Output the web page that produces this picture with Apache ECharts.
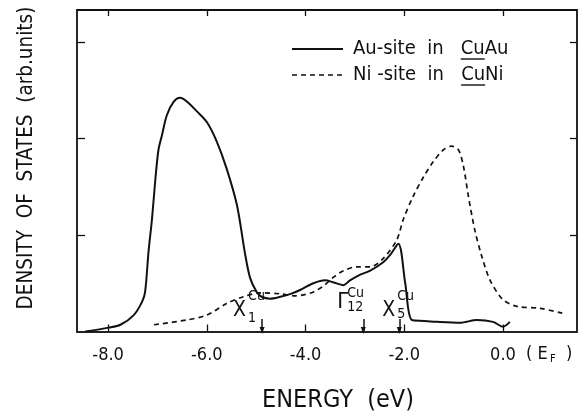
<!DOCTYPE html>
<html lang="en">
<head>
<meta charset="UTF-8">
<title>Density of states</title>
<script src="https://cdn.jsdelivr.net/npm/echarts@6/dist/echarts.min.js"></script>
<style>
	html, body { margin: 0; padding: 0; background: #fff; }
	#chart { width: 581px; height: 419px; }
</style>
</head>
<body>
<div id="chart"></div>
<script>
	// Au-site in CuAu (solid)
	var auEnergy = [-8.46, -7.99, -7.75, -7.48, -7.31, -7.25, -7.18, -7.11, -7.04, -6.98, -6.91, -6.81, -6.67, -6.54,
		-6.40, -6.20, -6.00, -5.80, -5.60, -5.39, -5.22, -5.12, -4.99, -4.89, -4.72, -4.51, -4.30, -4.11,
		-3.84, -3.60, -3.44, -3.23, -3.10, -2.89, -2.69, -2.42, -2.29, -2.12, -1.98, -1.85, -1.60, -1.34,
		-0.87, -0.53, -0.20, 0.00, 0.14];
	var auDos = [0.00, 0.04, 0.07, 0.17, 0.31, 0.41, 0.83, 1.17, 1.59, 1.88, 2.03, 2.24, 2.38, 2.42,
		2.38, 2.28, 2.17, 1.97, 1.69, 1.31, 0.79, 0.55, 0.41, 0.36, 0.34, 0.36, 0.39, 0.43,
		0.50, 0.53, 0.51, 0.48, 0.53, 0.59, 0.63, 0.72, 0.79, 0.91, 0.50, 0.12, 0.11, 0.10,
		0.09, 0.12, 0.10, 0.05, 0.10];

	// Ni-site in CuNi (dashed)
	var niEnergy = [-7.07, -6.40, -6.00, -5.60, -5.26, -4.92, -4.51, -4.20, -4.04, -3.84, -3.64, -3.44,
		-3.23, -2.96, -2.69, -2.42, -2.15, -2.02, -1.82, -1.61, -1.41, -1.21, -1.04, -0.90,
		-0.80, -0.70, -0.57, -0.43, -0.26, 0.00, 0.28, 0.75, 1.20];
	var niDos = [0.07, 0.12, 0.17, 0.29, 0.36, 0.40, 0.39, 0.37, 0.38, 0.41, 0.47, 0.56,
		0.63, 0.67, 0.67, 0.76, 0.95, 1.16, 1.40, 1.60, 1.76, 1.88, 1.92, 1.88,
		1.71, 1.40, 1.05, 0.78, 0.53, 0.33, 0.26, 0.24, 0.19];

	var xTicks = [-8, -6, -4, -2, 0];
	var yTicks = [1, 2, 3];

	// critical points of Cu, arrows on the energy axis
	var pointName = ['X', 'Γ', 'X'];
	var pointSub = ['1', '12', '5'];
	var pointEnergy = [-4.88, -2.83, -2.10];

	var FONT = '"DejaVu Sans Condensed", "Liberation Sans Narrow", "DejaVu Sans", sans-serif';
	var INK = '#111';

	// label offsets next to each arrow (px): main letter, superscript/subscript, vertical centres
	var pointLayout = [
		{dx: -29, sdx: -14, y: -21, supY: -35, subY: -13, size: 21},
		{dx: -26, sdx: -16, y: -29, supY: -38, subY: -24, size: 22},
		{dx: -17, sdx: -2, y: -21, supY: -35, subY: -17, size: 21}
	];

	function zip(xs, ys) {
		return xs.map(function (x, i) { return [x, ys[i]]; });
	}

	var chart = echarts.init(document.getElementById('chart'), null, {renderer: 'canvas'});

	var frameLine = {color: INK, width: 1.8};
	var tickLine = {color: INK, width: 1.3};

	chart.setOption({
		animation: false,
		backgroundColor: '#fff',
		grid: {left: 77, right: 4, top: 10, bottom: 87.5},
		xAxis: [{
			type: 'value', min: -8.63, max: 1.5, position: 'bottom',
			axisLine: {show: true, onZero: false, lineStyle: {color: '#222', width: 2.2}},
			axisTick: {show: true, inside: true, length: 7, customValues: xTicks, lineStyle: tickLine},
			axisLabel: {show: true, customValues: xTicks, margin: 15, color: INK, fontFamily: FONT, fontSize: 18,
				formatter: function (v) { return v.toFixed(1); }},
			splitLine: {show: false}
		}, {
			type: 'value', min: -8.63, max: 1.5, position: 'top',
			axisLine: {show: true, onZero: false, lineStyle: frameLine},
			axisTick: {show: true, inside: true, length: 6, customValues: xTicks, lineStyle: tickLine},
			axisLabel: {show: false},
			splitLine: {show: false}
		}],
		yAxis: [{
			type: 'value', min: 0, max: 3.33, position: 'left',
			axisLine: {show: true, onZero: false, lineStyle: frameLine},
			axisTick: {show: true, inside: true, length: 8, customValues: yTicks, lineStyle: tickLine},
			axisLabel: {show: false},
			splitLine: {show: false}
		}, {
			type: 'value', min: 0, max: 3.33, position: 'right',
			axisLine: {show: true, onZero: false, lineStyle: frameLine},
			axisTick: {show: true, inside: true, length: 7, customValues: yTicks, lineStyle: tickLine},
			axisLabel: {show: false},
			splitLine: {show: false}
		}],
		series: [{
			name: 'Au-site in CuAu',
			type: 'line',
			data: zip(auEnergy, auDos),
			showSymbol: false,
			smooth: 0.3,
			lineStyle: {color: INK, width: 2},
			markLine: {
				silent: true,
				symbol: ['none', 'triangle'],
				symbolSize: [5, 7],
				symbolRotate: 180,
				label: {show: false},
				lineStyle: {color: INK, width: 1.5, type: 'solid'},
				data: pointEnergy.map(function (e) {
					return [{coord: [e, 0.13]}, {coord: [e, 0.01]}];
				})
			}
		}, {
			name: 'Ni-site in CuNi',
			type: 'line',
			data: zip(niEnergy, niDos),
			showSymbol: false,
			smooth: 0.3,
			lineStyle: {color: INK, width: 1.7, type: [5, 4]}
		}]
	});

	// legend, axis titles and point labels
	var ctx = document.createElement('canvas').getContext('2d');
	function textWidth(str, size) {
		ctx.font = size + 'px ' + FONT;
		return ctx.measureText(str).width;
	}

	var legendX = 353;
	var legendRows = [
		{pre: 'Au-site  in   ', cu: 'Cu', post: 'Au', y: 49, dash: null},
		{pre: 'Ni -site  in   ', cu: 'Cu', post: 'Ni', y: 75, dash: [5, 4]}
	];
	var legendSize = 20;

	var graphics = [];
	legendRows.forEach(function (row) {
		graphics.push({
			type: 'line', silent: true,
			shape: {x1: 292, y1: row.y, x2: 343, y2: row.y},
			style: {stroke: INK, lineWidth: row.dash ? 1.7 : 2, lineDash: row.dash}
		});
		graphics.push({
			type: 'text', silent: true, x: legendX, y: row.y,
			style: {text: row.pre + row.cu + row.post, fill: INK, font: legendSize + 'px ' + FONT, verticalAlign: 'middle'}
		});
		var u0 = legendX + textWidth(row.pre, legendSize);
		var u1 = u0 + textWidth(row.cu, legendSize);
		graphics.push({
			type: 'line', silent: true,
			shape: {x1: u0, y1: row.y + 10, x2: u1, y2: row.y + 10},
			style: {stroke: INK, lineWidth: 1.4}
		});
	});

	graphics.push({
		type: 'text', silent: true, x: 338, y: 400,
		style: {text: 'ENERGY  (eV)', fill: INK, font: '25px ' + FONT, align: 'center', verticalAlign: 'middle'}
	});
	graphics.push({
		type: 'text', silent: true, x: 27, y: 158, rotation: Math.PI / 2,
		style: {text: 'DENSITY  OF  STATES  (arb.units)', fill: INK, font: '20.5px ' + FONT, align: 'center', verticalAlign: 'middle'}
	});

	// (E_F) next to the 0.0 label
	graphics.push({
		type: 'text', silent: true, x: 526, y: 354,
		style: {text: '( E', fill: INK, font: '18px ' + FONT, verticalAlign: 'middle'}
	});
	graphics.push({
		type: 'text', silent: true, x: 550, y: 359,
		style: {text: 'F', fill: INK, font: '11px ' + FONT, verticalAlign: 'middle'}
	});
	graphics.push({
		type: 'text', silent: true, x: 566, y: 354,
		style: {text: ')', fill: INK, font: '18px ' + FONT, verticalAlign: 'middle'}
	});

	var axisY = chart.convertToPixel({yAxisIndex: 0}, 0);
	pointEnergy.forEach(function (e, i) {
		var px = chart.convertToPixel({xAxisIndex: 0}, e);
		var lay = pointLayout[i];
		graphics.push({
			type: 'text', silent: true, x: px + lay.dx, y: axisY + lay.y,
			style: {text: pointName[i], fill: INK, font: lay.size + 'px ' + FONT, verticalAlign: 'middle'}
		});
		graphics.push({
			type: 'text', silent: true, x: px + lay.sdx, y: axisY + lay.supY,
			style: {text: 'Cu', fill: INK, font: '14px ' + FONT, verticalAlign: 'middle'}
		});
		graphics.push({
			type: 'text', silent: true, x: px + lay.sdx, y: axisY + lay.subY,
			style: {text: pointSub[i], fill: INK, font: '14px ' + FONT, verticalAlign: 'middle'}
		});
	});

	chart.setOption({graphic: graphics});
</script>
</body>
</html>
